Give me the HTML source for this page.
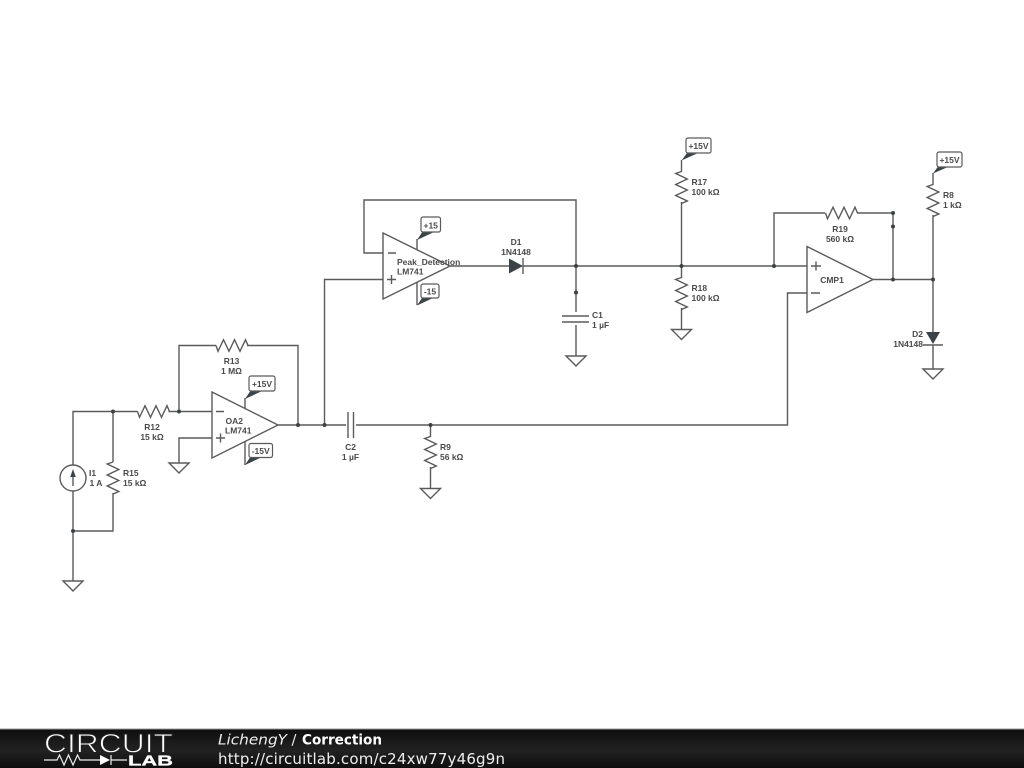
<!DOCTYPE html>
<html><head><meta charset="utf-8"><style>
html,body{margin:0;padding:0;background:#fff;width:1024px;height:768px;overflow:hidden}
svg{display:block}
.w{fill:none;stroke:#5a5a5a;stroke-width:1.4}
.c{fill:#3c4347}
.g{fill:#fff;stroke:#5a5a5a;stroke-width:1.4}
text{font-family:"Liberation Sans",sans-serif;font-size:8.5px;font-weight:bold;fill:#4a4a4a;text-anchor:middle}
.l{text-anchor:start}
.r{text-anchor:end}
.f{fill:#fff;stroke:#5a5a5a;stroke-width:1.2}
.t{font-family:"DejaVu Sans",sans-serif;fill:#eee;text-anchor:start;font-weight:normal}
</style></head><body>
<svg width="1024" height="768" viewBox="0 0 1024 768" xmlns="http://www.w3.org/2000/svg">
<defs>
<linearGradient id="bar" x1="0" y1="0" x2="0" y2="1"><stop offset="0" stop-color="#0e0e0e"/><stop offset="0.55" stop-color="#222"/><stop offset="1" stop-color="#0e0e0e"/></linearGradient>
<path id="rh" class="w" d="M-15.500 0l2 5.800 5.500-11.600 5.500 11.600 5.500-11.600 5.500 11.600 5.500-11.600 2.500 5.800"/>
<path id="gnd" class="g" d="M-10 0H10L0 10Z"/>
</defs>
<rect width="1024" height="768" fill="#fff"/>

<!-- wires -->
<path class="w" d="M73 465V411.500H137.500M168.500 411.500H212M113 411.500V462M113 493V531H73M73 491V581"/>
<path class="w" d="M179 411.500V345.500H216M247 345.500H298V425M278 425H348M354 425H787.500V293H807"/>
<path class="w" d="M212 438H179V463M324.500 425V279.500H383M383 253H364V200H576V356"/>
<path class="w" d="M450 266H509M523 266H807M430.500 425V437M430.500 467V488"/>
<path class="w" d="M681.500 160V172M681.500 202V278M681.500 308V329"/>
<path class="w" d="M774 266V213H825M857 213H893V279.500M873 279.500H933M933 173V185M933 215V332M933 345V369"/>

<!-- resistors -->
<use href="#rh" transform="translate(153 411.500)"/>
<use href="#rh" transform="translate(231.500 345.500)"/>
<use href="#rh" transform="translate(113 477.500) rotate(90)"/>
<use href="#rh" transform="translate(430.500 452) rotate(90)"/>
<use href="#rh" transform="translate(681.500 187) rotate(90)"/>
<use href="#rh" transform="translate(681.500 293) rotate(90)"/>
<use href="#rh" transform="translate(841 213)"/>
<use href="#rh" transform="translate(933 200) rotate(90)"/>

<!-- grounds -->
<use href="#gnd" x="73" y="581"/>
<use href="#gnd" x="179" y="463"/>
<use href="#gnd" x="430.500" y="488.500"/>
<use href="#gnd" x="576" y="356"/>
<use href="#gnd" x="681.500" y="329.500"/>
<use href="#gnd" x="933" y="369"/>

<!-- op amps -->
<path class="g" d="M212 392V458L278 425Z"/>
<path class="w" d="M216 411.500H224M216 438H225M220.500 433.500V442.500"/>
<path class="g" d="M383 233V299L450 266Z"/>
<path class="w" d="M388 253H396M387 279.500H396M391.500 275V284"/>
<path class="g" d="M807 246.500V312.500L873 279.500Z"/>
<path class="w" d="M811 266H821M816 261.500V270.500M811 293H820"/>

<!-- current source -->
<circle class="g" cx="73" cy="478" r="13"/>
<path class="w" d="M73 486V474"/>
<path class="c" d="M73 469L75.800 477H70.200Z"/>

<!-- capacitors -->
<rect x="560" y="312" width="32" height="13" fill="#fff"/>
<path class="w" d="M562 316H589M562 322H589"/>
<rect x="346" y="410" width="10" height="30" fill="#fff"/>
<path class="w" d="M348 412V438M353.500 412V438"/>

<!-- diodes -->
<path class="c" d="M509 258.500V273.500L523 266Z"/>
<path class="w" d="M523 258V274"/>
<path class="c" d="M926 332H940L933 344Z"/>
<path class="w" d="M923 345H943"/>

<!-- junctions -->
<g class="c">
<circle cx="113" cy="411.500" r="2"/><circle cx="179" cy="411.500" r="2"/><circle cx="73" cy="531" r="2"/>
<circle cx="298" cy="425" r="2"/><circle cx="324.500" cy="425" r="2"/><circle cx="430.500" cy="425" r="2"/>
<circle cx="576" cy="266" r="2"/><circle cx="576" cy="292.500" r="2"/><circle cx="681.500" cy="266" r="2"/>
<circle cx="774" cy="266" r="2"/><circle cx="893" cy="213" r="2"/><circle cx="893" cy="226.500" r="2"/>
<circle cx="893" cy="279.500" r="2"/><circle cx="933" cy="279.500" r="2"/>
</g>

<!-- supply flags -->
<path class="w" d="M245 408V398M245 441.500V465M417 250V239M417 282.500V305"/>
<path class="c" d="M245 399L250 391.500H261ZM245 465L250 457.500H261ZM417 240L422 232.500H433ZM417 305.500L422 298H433ZM681.500 160.500L687 153H698ZM933 173.500L938 166.500H949Z"/>
<rect class="f" x="249" y="376" width="26" height="15" rx="2"/><text x="262" y="387">+15V</text>
<rect class="f" x="249" y="443.500" width="23.500" height="14" rx="2"/><text x="260.700" y="454">-15V</text>
<rect class="f" x="421" y="217" width="19.500" height="15" rx="2"/><text x="430.700" y="228.500">+15</text>
<rect class="f" x="421" y="284" width="18" height="14" rx="2"/><text x="430" y="294.500">-15</text>
<rect class="f" x="686" y="138" width="25" height="15" rx="2"/><text x="698.500" y="149">+15V</text>
<rect class="f" x="937" y="152" width="25" height="15" rx="2"/><text x="949.500" y="163">+15V</text>

<!-- labels -->
<text class="l" x="89" y="476">I1</text><text class="l" x="89.500" y="486">1 A</text>
<text class="l" x="123" y="476">R15</text><text class="l" x="123" y="486">15 kΩ</text>
<text x="152" y="430">R12</text><text x="152" y="440">15 kΩ</text>
<text x="231.500" y="364">R13</text><text x="231.500" y="374">1 MΩ</text>
<text class="l" x="225.500" y="424">OA2</text><text class="l" x="225" y="433.500">LM741</text>
<text class="l" x="397" y="265">Peak_Detection</text><text class="l" x="397" y="274.500">LM741</text>
<text x="516" y="245">D1</text><text x="516" y="255">1N4148</text>
<text class="l" x="592" y="318">C1</text><text class="l" x="592" y="328">1 µF</text>
<text x="350.500" y="450">C2</text><text x="350.500" y="460">1 µF</text>
<text class="l" x="440" y="450">R9</text><text class="l" x="440" y="460">56 kΩ</text>
<text class="l" x="691.500" y="185">R17</text><text class="l" x="691.500" y="195">100 kΩ</text>
<text class="l" x="691.500" y="291">R18</text><text class="l" x="691.500" y="301">100 kΩ</text>
<text x="840" y="232">R19</text><text x="840" y="242">560 kΩ</text>
<text x="832" y="283">CMP1</text>
<text class="l" x="943" y="198">R8</text><text class="l" x="943" y="208">1 kΩ</text>
<text class="r" x="923" y="337">D2</text><text class="r" x="923" y="347">1N4148</text>

<!-- footer -->
<rect x="0" y="729" width="1024" height="39" fill="url(#bar)"/>
<rect x="0" y="728.500" width="1024" height="1" fill="#999"/>
<text x="44" y="752.500" textLength="129" lengthAdjust="spacingAndGlyphs" style="font-size:27px;font-weight:normal;fill:#fff;stroke:#222;stroke-width:0.9;text-anchor:start">CIRCUIT</text>
<path d="M44 760H57l2.500-5 4.500 10 4.500-10 4.500 10 4.500-10 2.500 5H100M111 760H127M111 755V765" fill="none" stroke="#eee" stroke-width="1.2"/>
<path d="M100 755V765L110 760Z" fill="#fff"/>
<text x="128" y="765.500" textLength="45" lengthAdjust="spacingAndGlyphs" style="font-size:14.500px;fill:#fff;stroke:#fff;stroke-width:0.3;text-anchor:start">LAB</text>
<text class="t" x="218" y="744.500" textLength="69" lengthAdjust="spacingAndGlyphs" style="font-size:14.500px;font-style:italic">LichengY</text>
<text class="t" x="291.500" y="744.500" style="font-size:14.500px">/</text>
<text class="t" x="302" y="744.500" textLength="80" lengthAdjust="spacingAndGlyphs" style="font-size:14px;font-weight:bold;fill:#fff">Correction</text>
<text class="t" x="218" y="764" textLength="287" style="font-size:15px">http://circuitlab.com/c24xw77y46g9n</text>
</svg>
</body></html>
